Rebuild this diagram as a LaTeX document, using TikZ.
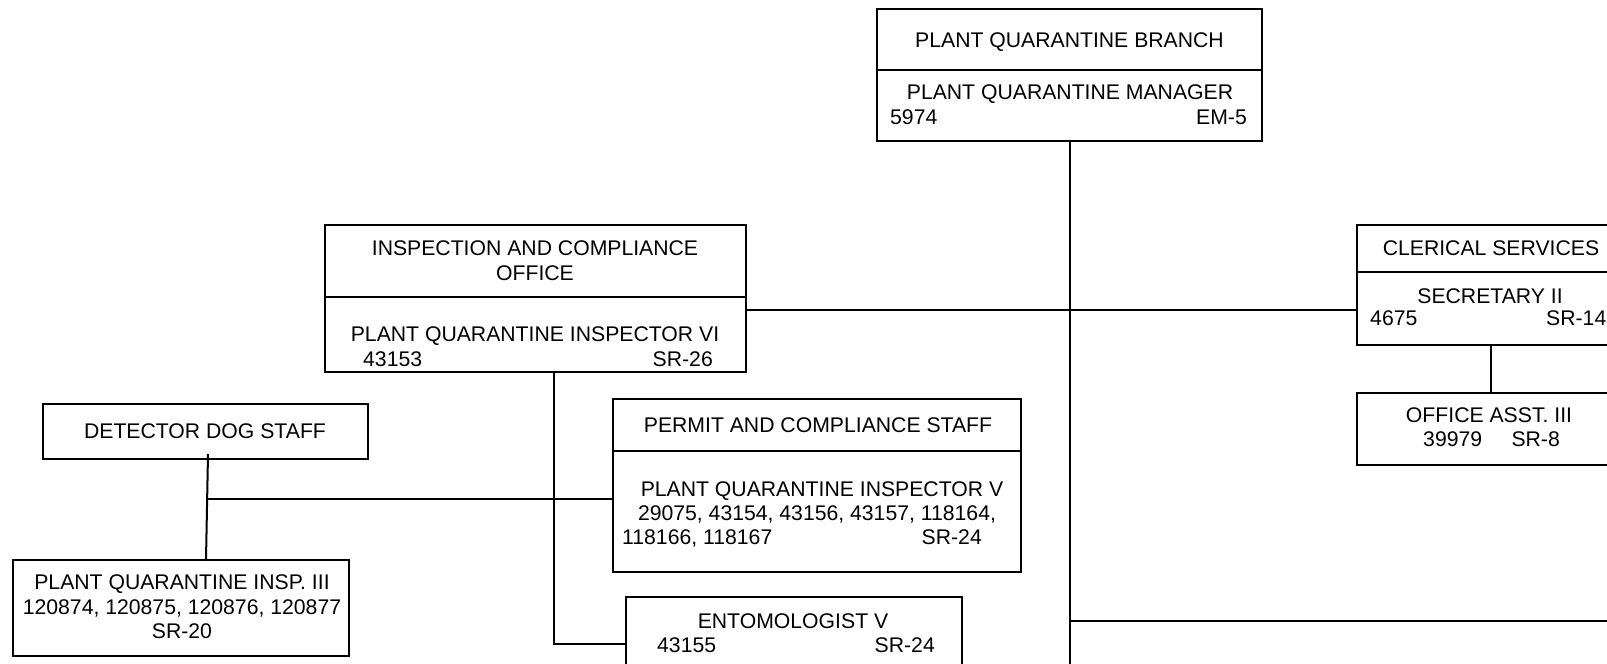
\documentclass[tikz,border=0pt]{standalone}
\usepackage{fontspec}
\setmainfont{Liberation Sans}
\newcommand\chartfont{\fontsize{21.2}{24.6}\selectfont}
\begin{document}
\begin{tikzpicture}[x=1pt,y=-1pt,
  box/.style={draw, line width=2pt, rectangle, anchor=north west, inner sep=0pt, outer sep=0pt},
  txt/.style={font=\chartfont, inner sep=0pt, text height=15.2pt, text depth=0pt},
  conn/.style={line width=2pt}]
\clip (0,0) rectangle (1607,664);
\fill[white] (0,0) rectangle (1607,664);

% boxes
\node[box, minimum width=385pt, minimum height=61pt] (tophead) at (877,9) {};
\node[box, minimum width=385pt, minimum height=71pt] (topbody) at (877,70) {};
\node[box, minimum width=421pt, minimum height=72pt] (insphead) at (325,225) {};
\node[box, minimum width=421pt, minimum height=75pt] (inspbody) at (325,297) {};
\node[box, minimum width=268pt, minimum height=47pt] (clerhead) at (1357,225) {};
\node[box, minimum width=268pt, minimum height=73pt] (clerbody) at (1357,272) {};
\node[box, minimum width=268pt, minimum height=72pt] (office) at (1357,393) {};
\node[box, minimum width=325pt, minimum height=55pt] (dog) at (43,404) {};
\node[box, minimum width=336pt, minimum height=96pt] (pq3) at (13,560) {};
\node[box, minimum width=408pt, minimum height=52pt] (permhead) at (613,399) {};
\node[box, minimum width=408pt, minimum height=121pt] (permbody) at (613,451) {};
\node[box, minimum width=336pt, minimum height=95pt] (ento) at (626,597) {};

% texts
\node[txt] (t1) at (1069.5,39.5) {PLANT QUARANTINE BRANCH};
\node[txt] (t2) at (1070,91.5) {PLANT QUARANTINE MANAGER};
\node[txt, anchor=west] (t3) at (890,116.5) {5974};
\node[txt, anchor=east] (t4) at (1247,116.5) {EM-5};

\node[txt] (i1) at (535,248) {INSPECTION AND COMPLIANCE};
\node[txt] (i2) at (535,272.5) {OFFICE};
\node[txt] (i3) at (535,334) {PLANT QUARANTINE INSPECTOR VI};
\node[txt, anchor=west] (i4) at (363,358.5) {43153};
\node[txt, anchor=east] (i5) at (713,358.5) {SR-26};

\node[txt] (c1) at (1491,248) {CLERICAL SERVICES};
\node[txt] (c2) at (1490,296) {SECRETARY II};
\node[txt, anchor=west] (c3) at (1370,318) {4675};
\node[txt, anchor=west] (c4) at (1546,318) {SR-14};

\node[txt] (o1) at (1489,415) {OFFICE ASST. III};
\node[txt, anchor=west] (o2) at (1423,439) {39979};
\node[txt, anchor=east] (o3) at (1560,439) {SR-8};

\node[txt] (d1) at (205,431) {DETECTOR DOG STAFF};

\node[txt] (q1) at (182,582) {PLANT QUARANTINE INSP. III};
\node[txt] (q2) at (182,606.5) {120874, 120875, 120876, 120877};
\node[txt] (q3) at (182,631) {SR-20};

\node[txt] (p1) at (818,425) {PERMIT AND COMPLIANCE STAFF};
\node[txt] (p2) at (822,489) {PLANT QUARANTINE INSPECTOR V};
\node[txt] (p3) at (817,513) {29075, 43154, 43156, 43157, 118164,};
\node[txt, anchor=west] (p4) at (622,537) {118166, 118167};
\node[txt, anchor=east] (p5) at (982,537) {SR-24};

\node[txt] (e1) at (793,621) {ENTOMOLOGIST V};
\node[txt, anchor=west] (e2) at (657,645) {43155};
\node[txt, anchor=east] (e3) at (935,645) {SR-24};

% connector helper coordinates
\coordinate (mainend) at (1070,670);
\coordinate (hy) at (0,309.5);
\coordinate (lowy) at (0,621);
\coordinate (rightend) at (1612,621);
\coordinate (ielbow) at (554,644);
\coordinate (dogjoin) at (208,499);
\coordinate (dogtop) at (208,454);
\coordinate (dogbot) at (206,560);

% connectors
\draw[conn] (topbody.south) -- (topbody.south |- mainend);
\draw[conn] (inspbody.east |- hy) -- (clerbody.west |- hy);
\draw[conn] (topbody.south |- lowy) -- (rightend);
\draw[conn] (clerbody.south -| office.north) -- (office.north);
\draw[conn] (inspbody.south -| ielbow) -- (ielbow) -- (ento.west |- ielbow);
\draw[conn] (dogtop) -- (pq3.north -| dogbot);
\draw[conn] (dogjoin) -- (permbody.west |- dogjoin);
\end{tikzpicture}
\end{document}
